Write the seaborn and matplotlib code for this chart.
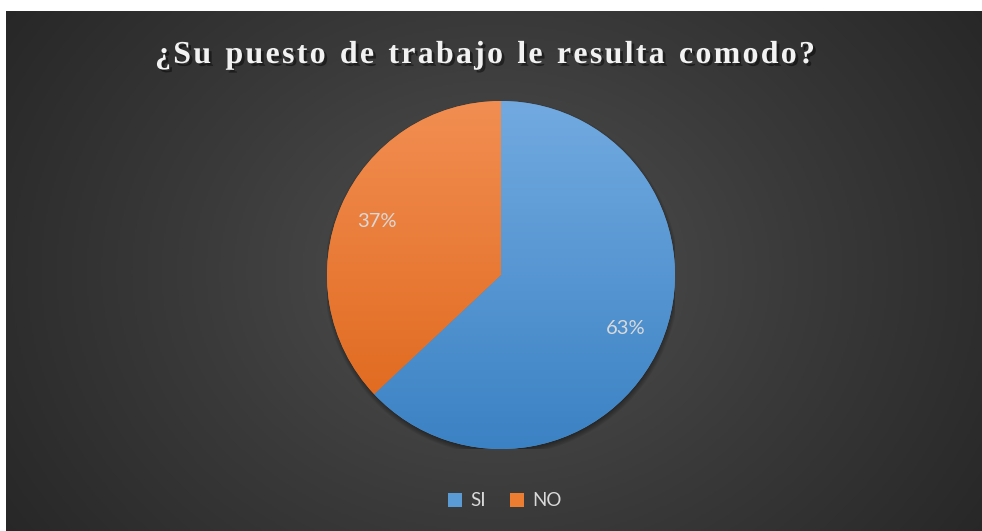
import numpy as np
import matplotlib
matplotlib.use("Agg")
import matplotlib.pyplot as plt
import matplotlib.patheffects as pe
from matplotlib.patches import Patch, Circle
from matplotlib.colors import LinearSegmentedColormap
import seaborn as sns

# Survey answers
categories = ["SI", "NO"]
shares = [63, 37]
title_text = "¿Su puesto de trabajo le resulta comodo?"

sns.set_theme(style="dark")
plt.rcParams["font.family"] = ["Lato", "DejaVu Sans"]

W, H = 982, 531
fig = plt.figure(figsize=(W / 100, H / 100), dpi=100, facecolor="white")

# Dark radial background panel
bg = fig.add_axes([6 / W, 0, (W - 6) / W, (H - 11) / H])
bg.set_axis_off()
ny, nx = 260, 488
yy, xx = np.mgrid[0:ny, 0:nx]
cx, cy = nx * 0.50, ny * 0.50
d = np.sqrt(((xx - cx) / (nx * 0.62)) ** 2 + ((yy - cy) / (ny * 0.95)) ** 2)
d = np.clip(d, 0, 1)
bg_cmap = LinearSegmentedColormap.from_list("bg", ["#505050", "#3a3a3a", "#262626"])
bg.imshow(d, cmap=bg_cmap, vmin=0, vmax=1, aspect="auto",
          extent=[0, 1, 0, 1], interpolation="bilinear")
bg.set_xlim(0, 1)
bg.set_ylim(0, 1)

# Pie axes (square, centered)
R = 174
pcx, pcy = 501, H - 275
ax = fig.add_axes([(pcx - R) / W, (pcy - R) / H, 2 * R / W, 2 * R / H])
ax.set_axis_off()

# soft drop shadow, mostly below the pie
for k in range(6):
    ax.add_patch(Circle((0.004, -0.016), 0.99 + 0.006 * k, color="black",
                        alpha=0.07, lw=0, zorder=0))

palette = sns.color_palette(["#5B9BD5", "#ED7D31"])
wedges, texts, autotexts = ax.pie(
    shares, labels=None, colors=palette, startangle=90, counterclock=False,
    autopct=lambda p: f"{p:.0f}%", pctdistance=0.78, radius=1.0,
    wedgeprops=dict(linewidth=0),
    textprops=dict(color="#d9d9d9", fontsize=14.5, family=["Lato", "DejaVu Sans"]),
)

# vertical gradient fill clipped to each wedge
grads = [("#72AAE0", "#3B82C4"), ("#F28E52", "#DE6518")]
g = np.linspace(0, 1, 256).reshape(-1, 1)
for w, (top, bottom) in zip(wedges, grads):
    cm = LinearSegmentedColormap.from_list("w", [top, bottom])
    im = ax.imshow(g, cmap=cm, extent=[-1, 1, -1, 1], aspect="auto",
                   origin="upper", zorder=w.get_zorder() + 0.1)
    im.set_clip_path(w)
for t in autotexts:
    t.set_zorder(5)

ax.set_xlim(-1.0, 1.0)
ax.set_ylim(-1.0, 1.0)

# Title: letter-spaced glyphs with a drop shadow
fig.canvas.draw()
renderer = fig.canvas.get_renderer()
tprops = dict(family=["Liberation Serif", "DejaVu Serif"], weight="bold", fontsize=23)
widths = []
for ch in title_text:
    t = fig.text(0, 0, ch if ch != " " else "n", **tprops)
    bb = t.get_window_extent(renderer)
    widths.append(bb.width * (0.55 if ch == " " else 1.0))
    t.remove()
x0, x1 = 155, 815
spacing = ((x1 - x0) - sum(widths)) / (len(title_text) - 1)
x = x0
base_y = H - 63
shadow = [pe.SimplePatchShadow(offset=(2, -2), shadow_rgbFace="black", alpha=0.45),
          pe.Normal()]
for ch, w in zip(title_text, widths):
    if ch != " ":
        fig.text(x / W, base_y / H, ch, color="#f2f2f2", va="baseline", ha="left",
                 path_effects=shadow, **tprops)
    x += w + spacing

# Legend
handles = [Patch(facecolor=c, edgecolor="none") for c in ["#5B9BD5", "#ED7D31"]]
leg = fig.legend(handles, categories, loc="center", bbox_to_anchor=(505 / W, 1 - 501 / H),
                 ncol=2, frameon=False, fontsize=13.5, handlelength=0.75, handleheight=0.75,
                 handletextpad=0.45, columnspacing=1.25, labelcolor="#d9d9d9")

fig.savefig("out.png", dpi=100, facecolor="white")
